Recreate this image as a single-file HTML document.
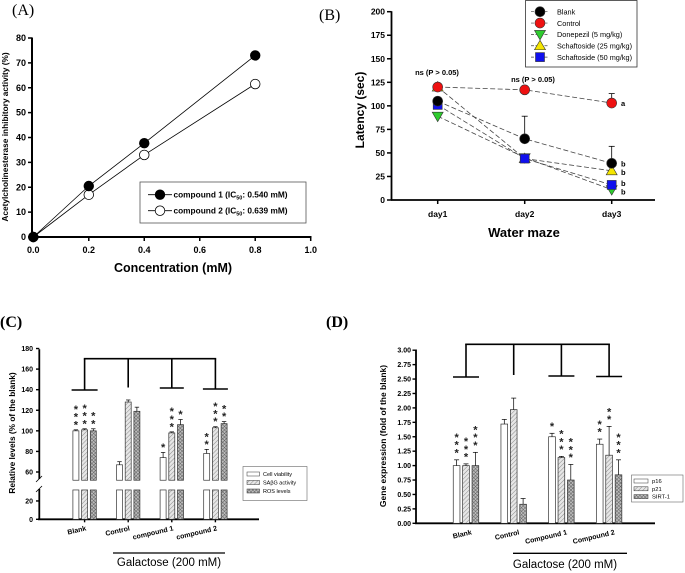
<!DOCTYPE html>
<html><head><meta charset="utf-8"><style>
html,body{margin:0;padding:0;background:#fff;}
svg{display:block;font-family:"Liberation Sans",Arial,sans-serif;}
</style></head><body>
<svg id="fig" width="685" height="573" viewBox="0 0 685 573" xmlns="http://www.w3.org/2000/svg">
<defs>
<pattern id="hatchSA" width="3" height="3" patternUnits="userSpaceOnUse" patternTransform="rotate(45)"><rect width="3" height="3" fill="#e6e6e6"/><line x1="0" y1="0" x2="0" y2="3" stroke="#8a8a8a" stroke-width="1"/></pattern>
<pattern id="hatchROS" width="2.5" height="2.5" patternUnits="userSpaceOnUse" patternTransform="rotate(45)"><rect width="2.5" height="2.5" fill="#bbb"/><line x1="0" y1="0" x2="0" y2="2.5" stroke="#555" stroke-width="0.9"/><line x1="0" y1="0" x2="2.5" y2="0" stroke="#555" stroke-width="0.9"/></pattern>
</defs>
<rect width="685" height="573" fill="#fff"/>
<text x="12" y="15" font-family="Liberation Serif,serif" font-size="16">(A)</text>
<text x="319" y="20" font-family="Liberation Serif,serif" font-size="16">(B)</text>
<text x="0" y="327" font-family="Liberation Serif,serif" font-size="16" font-weight="bold">(C)</text>
<text x="326" y="327" font-family="Liberation Serif,serif" font-size="16" font-weight="bold">(D)</text>
<g id="gA"></g>
<g id="gB"></g>
<g id="gC"></g>
<g id="gD"></g>
</svg>
<script>
// ---------- Panel A data ----------
const aConc = [0, 0.2, 0.4, 0.8];
const aComp1 = [0, 20.5, 37.7, 73];
const aComp2 = [0, 17, 33, 61.5];
const aXTicks = [0, 0.2, 0.4, 0.6, 0.8, 1.0];
const aYTicks = [0, 10, 20, 30, 40, 50, 60, 70, 80];
// ---------- Panel B data ----------
const bDays = ["day1", "day2", "day3"];
const bBlank = [105, 65, 39];
const bControl = [120, 117, 103];
const bDonepezil = [89, 45, 11];
const bSchaf25 = [120, 44, 31];
const bSchaf50 = [101, 44, 16];
const bBlankErr = [0, 89, 57];
const bControlErr = [0, 0, 113];
const bYTicks = [0, 25, 50, 75, 100, 125, 150, 175, 200];
const bLetterVals = [103, 39, 30, 18, 9];
const bLetters = ["a", "b", "b", "b", "b"];
// ---------- Panel C data ----------
const cGroups = ["Blank", "Control", "compound 1", "compound 2"];
const cViab = [100, 67, 74, 78];
const cViabErr = [101, 70, 79, 82];
const cSA = [101, 128, 98, 103];
const cSAErr = [102, 130, 99, 104];
const cROS = [100, 119, 106, 107];
const cROSErr = [102, 123, 111, 109];
const cStarsViab = [3, 0, 1, 2];
const cStarsSA = [3, 0, 3, 3];
const cStarsROS = [2, 0, 1, 2];
const cYTicks = [0, 20, 60, 80, 100, 120, 140, 160, 180];
// ---------- Panel D data ----------
const dGroups = ["Blank", "Control", "Compound 1", "Compound 2"];
const dP16 = [1.0, 1.72, 1.50, 1.37];
const dP16Err = [1.10, 1.80, 1.56, 1.46];
const dP21 = [1.0, 1.97, 1.14, 1.18];
const dP21Err = [1.03, 2.17, 1.16, 1.68];
const dSIRT = [1.0, 0.33, 0.75, 0.84];
const dSIRTErr = [1.23, 0.43, 1.02, 1.10];
const dStarsP16 = [3, 0, 1, 2];
const dStarsP21 = [3, 0, 3, 2];
const dStarsSIRT = [3, 0, 3, 3];
const dYTicks = [0, 0.25, 0.5, 0.75, 1.0, 1.25, 1.5, 1.75, 2.0, 2.25, 2.5, 2.75, 3.0];

const NS = "http://www.w3.org/2000/svg";
function mk(parent, tag, attrs, txt) {
  const e = document.createElementNS(NS, tag);
  for (const k in attrs) e.setAttribute(k, attrs[k]);
  if (txt !== undefined) e.textContent = txt;
  parent.appendChild(e);
  return e;
}
function line(p, x1, y1, x2, y2, w, extra) {
  const l = mk(p, "line", Object.assign({x1, y1, x2, y2, stroke: "#000", "stroke-width": w}, extra || {}));
  return l;
}

// ================= PANEL A =================
(function () {
  const g = document.getElementById("gA");
  const xA = v => 33.3 + v * 277.4;
  const yA = v => 237 - v * 2.4875;
  const ax = line(g, 32, 237, 311.5, 237, 2);
  
  
  const ay = line(g, 32, 237, 32, 37.5, 2);
  
  
  aXTicks.forEach(t => {
    line(g, xA(t), 237, xA(t), 241, 1.5);
    const tx = mk(g, "text", {x: xA(t), y: 253, "font-size": 9, "font-weight": "bold", "text-anchor": "middle"}, t.toFixed(1));
    
    
  });
  aYTicks.forEach(t => {
    line(g, 28, yA(t), 32, yA(t), 1.5);
    const tx = mk(g, "text", {x: 26, y: yA(t) + 3, "font-size": 9, "font-weight": "bold", "text-anchor": "end"}, String(t));
    
    
  });
  const xt = mk(g, "text", {x: 173, y: 272, "font-size": 12.5, "font-weight": "bold", "text-anchor": "middle"}, "Concentration (mM)");
  
  
  const yt = mk(g, "text", {x: 0, y: 0, "font-size": 8.3, "font-weight": "bold", "text-anchor": "middle", transform: "translate(8,137) rotate(-90)"}, "Acetylcholinesterase inhibitory activity (%)");
  
  
  [[aComp2, "#fff", "compound-2"], [aComp1, "#000", "compound-1"]].forEach(([s, fill, nm]) => {
    const pts = aConc.map((c, i) => xA(c) + "," + yA(s[i])).join(" ");
    const pl = mk(g, "polyline", {points: pts, fill: "none", stroke: "#000", "stroke-width": 0.8});
    
    
    aConc.forEach((c, i) => {
      const ci = mk(g, "circle", {cx: xA(c), cy: yA(s[i]), r: 4.8, fill: fill, stroke: "#000", "stroke-width": 0.8});
      
      
    });
  });
  const lg = mk(g, "g", {});
  
  
  mk(lg, "rect", {x: 140, y: 182, width: 166, height: 41, fill: "#fff", stroke: "#555", "stroke-width": 0.8});
  [[194.7, "#000", "compound 1 (IC", ": 0.540 mM)"], [210.7, "#fff", "compound 2 (IC", ": 0.639 mM)"]].forEach(([y, f, t1, t2]) => {
    line(lg, 148, y, 172, y, 0.8);
    mk(lg, "circle", {cx: 160, cy: y, r: 4.8, fill: f, stroke: "#000", "stroke-width": 0.8});
    const t = mk(lg, "text", {x: 173.5, y: y + 3, "font-size": 8.3, "font-weight": "bold"});
    
    
    mk(t, "tspan", {}, t1);
    mk(t, "tspan", {"font-size": 5.5, dy: 2}, "50");
    mk(t, "tspan", {dy: -2}, t2);
  });
})();

// ================= PANEL B =================
(function () {
  const g = document.getElementById("gB");
  const xB = i => 437.7 + i * 87;
  const yB = v => 200 - v * 0.9415;
  const ax = line(g, 391, 200, 655, 200, 1.8);
  
  
  const ay = line(g, 391.5, 200, 391.5, 11.3, 1.8);
  
  
  bYTicks.forEach(t => {
    line(g, 387, yB(t), 391.5, yB(t), 1.5);
    const tx = mk(g, "text", {x: 385, y: yB(t) + 3, "font-size": 8.5, "font-weight": "bold", "text-anchor": "end"}, String(t));
    
    
  });
  bDays.forEach((d, i) => {
    line(g, xB(i), 200, xB(i), 204, 1.5);
    const tx = mk(g, "text", {x: xB(i), y: 217, "font-size": 8.5, "font-weight": "bold", "text-anchor": "middle"}, d);
    
    
  });
  const xt = mk(g, "text", {x: 524, y: 237, "font-size": 13, "font-weight": "bold", "text-anchor": "middle"}, "Water maze");
  
  
  const yt = mk(g, "text", {x: 0, y: 0, "font-size": 12, "font-weight": "bold", "text-anchor": "middle", transform: "translate(364,110) rotate(-90)"}, "Latency (sec)");
  
  
  // error bars
  [[bBlank, bBlankErr], [bControl, bControlErr]].forEach(([s, e]) => {
    e.forEach((ev, i) => {
      if (ev > s[i]) {
        const l = line(g, xB(i), yB(s[i]), xB(i), yB(ev), 0.8);
        
        
        line(g, xB(i) - 3, yB(ev), xB(i) + 3, yB(ev), 0.8);
      }
    });
  });
  const series = [
    [bDonepezil, "#2ecc2e", "tri-down", "Donepezil (5 mg/kg)"],
    [bSchaf25, "#f5e600", "tri-up", "Schaftoside (25 mg/kg)"],
    [bSchaf50, "#1010ee", "square", "Schaftoside (50 mg/kg)"],
    [bBlank, "#000", "circle", "Blank"],
    [bControl, "#ee1111", "circle", "Control"]
  ];
  function marker(p, x, y, shape, fill) {
    if (shape === "circle") return mk(p, "circle", {cx: x, cy: y, r: 5, fill, stroke: "#333", "stroke-width": 0.6});
    if (shape === "square") return mk(p, "rect", {x: x - 4.5, y: y - 4.5, width: 9, height: 9, fill, stroke: "#333", "stroke-width": 0.6});
    if (shape === "tri-up") return mk(p, "polygon", {points: `${x},${y - 5.5} ${x - 5.5},${y + 4} ${x + 5.5},${y + 4}`, fill, stroke: "#333", "stroke-width": 0.6});
    return mk(p, "polygon", {points: `${x},${y + 5.5} ${x - 5.5},${y - 4} ${x + 5.5},${y - 4}`, fill, stroke: "#333", "stroke-width": 0.6});
  }
  series.forEach(([s, col, shp, nm]) => {
    const pts = s.map((v, i) => xB(i) + "," + yB(v)).join(" ");
    const pl = mk(g, "polyline", {points: pts, fill: "none", stroke: "#444", "stroke-width": 0.8, "stroke-dasharray": "5,2.5"});
    
    
  });
  series.forEach(([s, col, shp, nm]) => {
    s.forEach((v, i) => {
      const m = marker(g, xB(i), yB(v), shp, col);
      
      
    });
  });
  const n1 = mk(g, "text", {x: 437, y: 75, "font-size": 7.5, "font-weight": "bold", "text-anchor": "middle"}, "ns (P > 0.05)");
  
  
  const n2 = mk(g, "text", {x: 533, y: 82, "font-size": 7.5, "font-weight": "bold", "text-anchor": "middle"}, "ns (P > 0.05)");
  
  
  bLetterVals.forEach((v, i) => {
    const t = mk(g, "text", {x: 621, y: yB(v) + 3, "font-size": 7.5, "font-weight": "bold"}, bLetters[i]);
    
    
  });
  const lg = mk(g, "g", {});
  
  
  mk(lg, "rect", {x: 525.5, y: 0.5, width: 111.5, height: 66.5, fill: "#fff", stroke: "#333", "stroke-width": 0.8});
  const order = [series[3], series[4], series[0], series[1], series[2]];
  order.forEach(([s, col, shp, nm], k) => {
    const y = 11.7 + k * 11.35;
    line(lg, 531, y, 549, y, 0.7, {"stroke-dasharray": "3,1.5", stroke: "#444"});
    marker(lg, 540, y, shp, col);
    const t = mk(lg, "text", {x: 557, y: y + 2.7, "font-size": 7.3}, nm);
    
    
  });
})();

// helper for stars
function stars(g, x, yBase, n, name) {
  for (let k = 0; k < n; k++) {
    const t = mk(g, "text", {x: x, y: yBase - k * 7.6 + 5.5, "font-size": 11, "font-weight": "bold", "text-anchor": "middle", fill: "#222"}, "*");
    
    
  }
}
function bracket(g, topY, xs, drops, crossW) {
  line(g, xs[0] - 0.8, topY, xs[xs.length - 1] + 0.8, topY, 1.6);
  xs.forEach((x, i) => {
    line(g, x, topY, x, drops[i], 1.6);
    if (crossW[i]) line(g, x - crossW[i], drops[i], x + crossW[i], drops[i], 1.6);
  });
}

// ================= PANEL C =================
(function () {
  const g = document.getElementById("gC");
  const y0 = 519.3;
  const yC = v => v <= 35 ? y0 - v * 0.917 : 472 - (v - 60) * 1.029;
  const lowTop = 32, upBot = 52;
  const gx = i => 84.6 + i * 43.6;
  const bw = 6, sp = 8.7;
  const ax = line(g, 38, y0, 259, y0, 1.8);
  
  
  const ay1 = line(g, 39.3, y0, 39.3, 489, 1.8);
  
  
  const ay2 = line(g, 39.3, 479, 39.3, 349.3, 1.8);
  
  
  line(g, 36, 492, 42, 486, 0.8);
  line(g, 36, 482, 42, 476, 0.8);
  cYTicks.forEach(t => {
    line(g, 36, yC(t), 39.3, yC(t), 1.4);
    const tx = mk(g, "text", {x: 33, y: yC(t) + 2.5, "font-size": 7, "font-weight": "bold", "text-anchor": "end"}, String(t));
    
    
  });
  const yt = mk(g, "text", {x: 0, y: 0, "font-size": 8.3, "font-weight": "bold", "text-anchor": "middle", transform: "translate(15,433) rotate(-90)"}, "Relative levels (% of the blank)");
  
  
  const sets = [[cViab, cViabErr, "#fff", cStarsViab, "viability"], [cSA, cSAErr, "url(#hatchSA)", cStarsSA, "sa-bg"], [cROS, cROSErr, "url(#hatchROS)", cStarsROS, "ros"]];
  cGroups.forEach((grp, i) => {
    line(g, gx(i), y0, gx(i), y0 + 3, 1.4);
    const lab = mk(g, "text", {x: 0, y: 0, "font-size": 7, "font-weight": "bold", "text-anchor": "end", transform: `translate(${gx(i) + 2},${y0 + 11}) rotate(-13)`}, grp);
    
    
    sets.forEach(([vals, errs, fill, st, nm], k) => {
      const x = gx(i) + (k - 1) * sp - bw / 2;
      const b1 = mk(g, "rect", {x, y: yC(lowTop), width: bw, height: y0 - yC(lowTop), fill, stroke: "#333", "stroke-width": 0.7});
      
      
      const b2 = mk(g, "rect", {x, y: yC(vals[i]), width: bw, height: yC(upBot) - yC(vals[i]), fill, stroke: "#333", "stroke-width": 0.7});
      
      
      const cx = x + bw / 2;
      line(g, cx, yC(vals[i]), cx, yC(errs[i]), 0.7);
      line(g, cx - 2.2, yC(errs[i]), cx + 2.2, yC(errs[i]), 0.7);
      if (st[i]) stars(g, cx, yC(errs[i]) - 7, st[i], 'c-significance-star');
    });
  });
  bracket(g, 358.7, [gx(0), gx(1), gx(2), gx(3)], [390, 387.5, 388, 389], [13, 0, 12, 12.5]);
  line(g, 113, 553, 225, 553, 1.3);
  const gal = mk(g, "text", {x: 169, y: 566, "font-size": 11.5, "text-anchor": "middle"}, "Galactose (200 mM)");
  
  
  const lg = mk(g, "g", {});
  
  
  mk(lg, "rect", {x: 243, y: 466.5, width: 64, height: 34, fill: "#fff", stroke: "#666", "stroke-width": 0.6});
  [["#fff", "Cell viability"], ["url(#hatchSA)", "SAβG activity"], ["url(#hatchROS)", "ROS levels"]].forEach(([f, t], k) => {
    const y = 474 + k * 8.5;
    mk(lg, "rect", {x: 247, y: y - 2, width: 12.5, height: 4, fill: f, stroke: "#333", "stroke-width": 0.5});
    const tx = mk(lg, "text", {x: 263, y: y + 2, "font-size": 5.5}, t);
    
    
  });
})();

// ================= PANEL D =================
(function () {
  const g = document.getElementById("gD");
  const y0 = 523.3;
  const yD = v => y0 - v * 57.7;
  const gx = i => 466 + i * 47.7;
  const bw = 6.7, sp = 9.4;
  const ax = line(g, 415, y0, 655, y0, 1.8);
  
  
  const ay = line(g, 416, y0, 416, 349.5, 1.8);
  
  
  dYTicks.forEach(t => {
    line(g, 412.5, yD(t), 416, yD(t), 1.4);
    const tx = mk(g, "text", {x: 411, y: yD(t) + 2.5, "font-size": 7, "font-weight": "bold", "text-anchor": "end"}, t.toFixed(2));
    
    
  });
  const yt = mk(g, "text", {x: 0, y: 0, "font-size": 8.5, "font-weight": "bold", "text-anchor": "middle", transform: "translate(386,436) rotate(-90)"}, "Gene expression (fold of the blank)");
  
  
  const sets = [[dP16, dP16Err, "#fff", dStarsP16, "p16"], [dP21, dP21Err, "url(#hatchSA)", dStarsP21, "p21"], [dSIRT, dSIRTErr, "url(#hatchROS)", dStarsSIRT, "sirt1"]];
  dGroups.forEach((grp, i) => {
    const lab = mk(g, "text", {x: 0, y: 0, "font-size": 7, "font-weight": "bold", "text-anchor": "end", transform: `translate(${gx(i) + 6},${y0 + 11}) rotate(-13)`}, grp);
    
    
    sets.forEach(([vals, errs, fill, st, nm], k) => {
      const x = gx(i) + (k - 1) * sp - bw / 2;
      const b = mk(g, "rect", {x, y: yD(vals[i]), width: bw, height: y0 - yD(vals[i]), fill, stroke: "#333", "stroke-width": 0.7});
      
      
      const cx = x + bw / 2;
      line(g, cx, yD(vals[i]), cx, yD(errs[i]), 0.7);
      line(g, cx - 2.5, yD(errs[i]), cx + 2.5, yD(errs[i]), 0.7);
      if (st[i]) stars(g, cx, yD(errs[i]) - 9, st[i], 'd-significance-star');
    });
  });
  bracket(g, 344.3, [gx(0), gx(1), gx(2), gx(3)], [377, 375, 376, 376.5], [13, 0, 13, 13]);
  line(g, 513, 553.3, 627, 553.3, 1.3);
  const gal = mk(g, "text", {x: 565, y: 568, "font-size": 11.5, "text-anchor": "middle"}, "Galactose (200 mM)");
  
  
  const lg = mk(g, "g", {});
  
  
  mk(lg, "rect", {x: 631.5, y: 475, width: 51.5, height: 27, fill: "#fff", stroke: "#666", "stroke-width": 0.6});
  [["#fff", "p16"], ["url(#hatchSA)", "p21"], ["url(#hatchROS)", "SIRT-1"]].forEach(([f, t], k) => {
    const y = 481 + k * 7.8;
    mk(lg, "rect", {x: 634, y: y - 2, width: 14, height: 4, fill: f, stroke: "#333", "stroke-width": 0.5});
    const tx = mk(lg, "text", {x: 652, y: y + 2, "font-size": 5.8}, t);
    
    
  });
})();
</script>
</body></html>
